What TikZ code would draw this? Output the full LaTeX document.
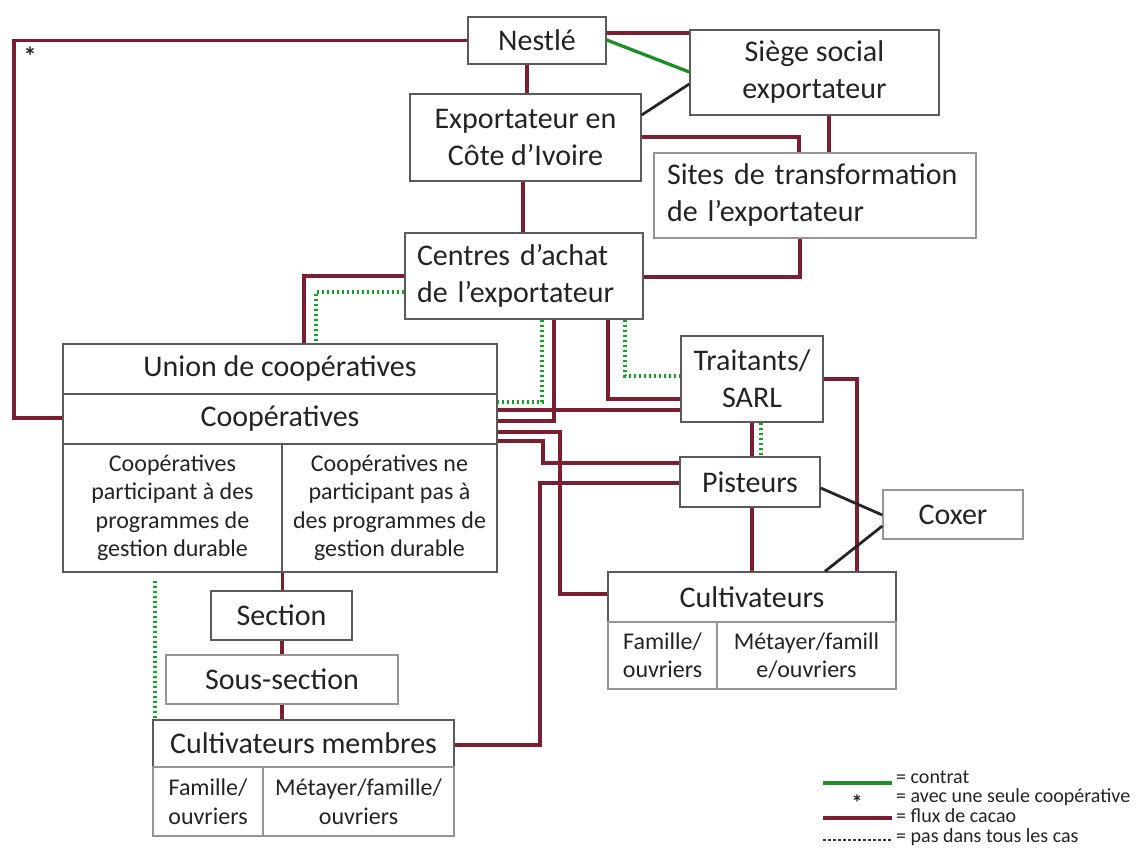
\documentclass[tikz,border=0pt]{standalone}
\usepackage{fontspec}
\setmainfont{Carlito}
\usetikzlibrary{calc}
\definecolor{cacao}{RGB}{122,30,50}
\definecolor{contrat}{RGB}{30,140,40}
\definecolor{dotgreen}{RGB}{20,160,40}
\definecolor{boxline}{RGB}{90,90,90}
\definecolor{boxlight}{RGB}{150,150,150}
\definecolor{txt}{RGB}{35,35,35}
\tikzset{
  box/.style={draw=boxline, line width=1.4pt, rectangle, inner sep=0pt, text=txt,
    font=\fontsize{30}{37}\selectfont, align=center},
  lightbox/.style={box, draw=boxlight},
  subbox/.style={lightbox, font=\fontsize{24}{28.5}\selectfont},
  flow/.style={draw=cacao, line width=3.3pt},
  contract/.style={draw=contrat, line width=3.3pt},
  blackline/.style={draw=black!85, line width=2.8pt},
  maybe/.style={draw=dotgreen, line width=3.2pt, dash pattern=on 2.5pt off 2.5pt},
  legendtext/.style={anchor=west, inner sep=0pt, text=txt, font=\fontsize{20}{20}\selectfont},
  starmark/.style={inner sep=0pt, text=txt, font=\fontsize{26}{26}\selectfont\bfseries},
}
\begin{document}
\begin{tikzpicture}[x=1pt,y=-1pt]
\useasboundingbox (0,0) rectangle (1141,848);
% boxes
\node[box, minimum width=138pt, minimum height=47pt] (nestle) at (537,40.5) {Nestlé};
\node[box, minimum width=249pt, minimum height=85pt] (siege) at (814.5,72.5) {Siège social\\exportateur};
\node[box, minimum width=231pt, minimum height=87pt] (export) at (525.5,137.5) {Exportateur en\\Côte d’Ivoire};
\node[lightbox, minimum width=322pt, minimum height=85pt, text width=296pt, align=left] (sites) at (815,195.5) {Sites de transformation\\de l’exportateur};
\node[box, minimum width=238pt, minimum height=86pt, text width=214pt, align=left] (centres) at (524,276) {Centres d’achat\\de l’exportateur};
\node[box, minimum width=434pt, minimum height=50pt] (union) at (280,369) {Union de coopératives};
\node[box, minimum width=434pt, minimum height=50pt] (coop) at (280,419) {Coopératives};
\node[box, font=\fontsize{24}{28.5}\selectfont, minimum width=219pt, minimum height=128pt] (cpart) at (172.5,508) {Coopératives\\participant à des\\programmes de\\gestion durable};
\node[box, font=\fontsize{24}{28.5}\selectfont, minimum width=215pt, minimum height=128pt] (cnon) at (389.5,508) {Coopératives ne\\participant pas à\\des programmes de\\gestion durable};
\node[box, minimum width=141pt, minimum height=49pt] (section) at (281.5,615.5) {Section};
\node[lightbox, minimum width=232pt, minimum height=49pt] (sous) at (282,679.5) {Sous-section};
\node[box, minimum width=301pt, minimum height=47pt] (cmemb) at (303.5,743.5) {Cultivateurs membres};
\node[subbox, minimum width=110pt, minimum height=69pt] (fam1) at (208,801.5) {Famille/\\ouvriers};
\node[subbox, minimum width=191pt, minimum height=69pt] (met1) at (358.5,801.5) {Métayer/famille/\\ouvriers};
\node[box, minimum width=142pt, minimum height=86pt] (traitants) at (752,379) {Traitants/\\SARL};
\node[box, minimum width=140pt, minimum height=50pt] (pisteurs) at (750,482) {Pisteurs};
\node[lightbox, minimum width=140pt, minimum height=49pt] (coxer) at (953,514.5) {Coxer};
\node[box, minimum width=288pt, minimum height=50pt] (cult) at (752,597) {Cultivateurs};
\node[subbox, minimum width=109pt, minimum height=67pt] (fam2) at (662.5,655.5) {Famille/\\ouvriers};
\node[subbox, minimum width=179pt, minimum height=67pt] (met2) at (806.5,655.5) {Métayer/famill\\e/ouvriers};
\node[starmark] (star) at (30,56) {*};
% connectors
\draw[flow] (nestle.west) -| (14,418) -- (coop.west |- 0,418);
\draw[flow] (nestle.east |- 0,33) -- (siege.west |- 0,33);
\draw[contract] (nestle.east |- 0,40) -- (siege.west |- 0,72);
\draw[blackline] (siege.west |- 0,84) -- (export.east |- 0,115);
\draw[flow] (nestle.south -| 527,0) -- (export.north -| 527,0);
\draw[flow] (export.east |- 0,137) -| (sites.north -| 799,0);
\draw[flow] (siege.south -| 829,0) -- (sites.north -| 829,0);
\draw[flow] (sites.south -| 800,0) |- (centres.east |- 0,277);
\draw[flow] (export.south -| 523,0) -- (centres.north -| 523,0);
\draw[flow] (centres.west |- 0,276) -| (union.north -| 304,0);
\draw[maybe] (centres.west |- 0,292) -| (union.north -| 316,0);
\draw[maybe] (centres.south -| 542,0) |- (coop.east |- 0,402);
\draw[flow] (centres.south -| 554,0) |- (coop.east |- 0,421);
\draw[flow] (coop.east |- 0,410) -- (traitants.west |- 0,410);
\draw[flow] (centres.south -| 608,0) |- (traitants.west |- 0,399);
\draw[maybe] (centres.south -| 625,0) |- (traitants.west |- 0,376);
\draw[flow] (coop.east |- 0,432) -| (560,594) -- (cult.west |- 0,594);
\draw[flow] (coop.east |- 0,441) -| (543,463) -- (pisteurs.west |- 0,463);
\draw[flow] (cmemb.east |- 0,745) -| (540,483) -- (pisteurs.west |- 0,483);
\draw[flow] (traitants.south -| 752,0) -- (pisteurs.north -| 752,0);
\draw[maybe] (traitants.south -| 761,0) -- (pisteurs.north -| 761,0);
\draw[flow] (traitants.east |- 0,379) -| (cult.north -| 857,0);
\draw[flow] (pisteurs.south -| 752,0) -- (cult.north -| 752,0);
\draw[blackline] (pisteurs.east |- 0,488) -- (coxer.west |- 0,515);
\draw[blackline] (coxer.west |- 0,526) -- (cult.north -| 825,0);
\draw[flow] (cpart.south east) -- (section.north -| cpart.south east);
\draw[flow] (section.south -| 282,0) -- (sous.north -| 282,0);
\draw[flow] (sous.south -| 282,0) -- (cmemb.north -| 282,0);
\draw[maybe] ($(cpart.south -| 155,0)+(0,8)$) -- (cmemb.north -| 155,0);
% legend
\draw[contract] (823,783) -- (892,783);
\node[legendtext] (l1) at (896,777) {= contrat};
\node[starmark, font=\fontsize{22}{22}\selectfont\bfseries] (l2s) at (857,803) {*};
\node[legendtext] (l2) at (896,797) {= avec une seule coopérative};
\draw[flow] (823,818) -- (892,818);
\node[legendtext] (l3) at (896,816) {= flux de cacao};
\draw[draw=black!80, line width=2.5pt, dash pattern=on 2.5pt off 2.5pt] (823,840) -- (892,840);
\node[legendtext] (l4) at (896,837) {= pas dans tous les cas};
\end{tikzpicture}
\end{document}
